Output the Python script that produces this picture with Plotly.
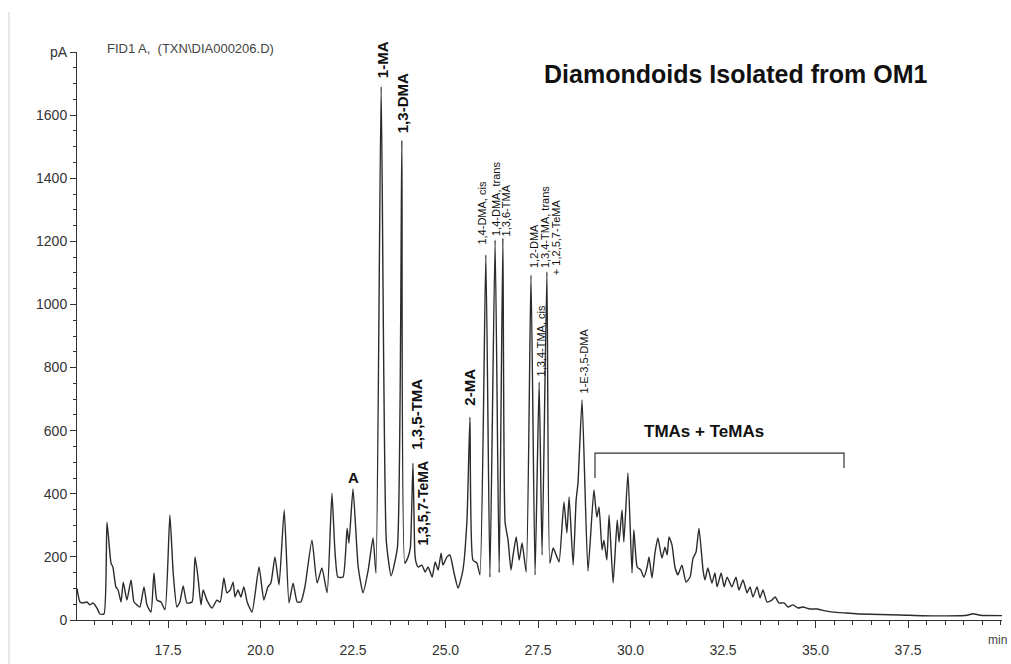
import plotly.graph_objects as go

# ---------------- data ----------------
time_min = [
    15.04, 15.12, 15.20, 15.31, 15.39, 15.47, 15.58, 15.66, 15.77, 15.85,
    15.96, 16.01, 16.09, 16.15, 16.23, 16.29, 16.39, 16.50, 16.58, 16.66,
    16.74, 16.85, 16.93, 17.04, 17.12, 17.20, 17.31, 17.42, 17.55, 17.64,
    17.74, 17.82, 17.91, 18.01, 18.15, 18.23, 18.31, 18.39, 18.45, 18.55,
    18.69, 18.82, 18.91, 19.01, 19.09, 19.18, 19.26, 19.31, 19.39, 19.47,
    19.55, 19.64, 19.77, 19.96, 20.09, 20.20, 20.28, 20.39, 20.50, 20.64,
    20.77, 20.88, 20.99, 21.09, 21.20, 21.39, 21.53, 21.66, 21.80, 21.93,
    22.01, 22.09, 22.23, 22.34, 22.39, 22.50, 22.64, 22.77, 22.91, 23.04,
    23.12, 23.26, 23.40, 23.53, 23.70, 23.82, 23.90, 23.99, 24.05, 24.12,
    24.17, 24.20, 24.26, 24.36, 24.45, 24.53, 24.64, 24.72, 24.80, 24.88,
    24.93, 25.04, 25.12, 25.23, 25.34, 25.47, 25.58, 25.66, 25.74, 25.85,
    25.93, 26.09, 26.20, 26.34, 26.45, 26.55, 26.61, 26.69, 26.77, 26.82,
    26.91, 26.99, 27.07, 27.18, 27.31, 27.42, 27.53, 27.61, 27.74, 27.82,
    27.91, 28.01, 28.07, 28.20, 28.28, 28.34, 28.45, 28.53, 28.58, 28.69,
    28.85, 29.01, 29.09, 29.15, 29.23, 29.28, 29.36, 29.42, 29.53, 29.64,
    29.69, 29.77, 29.82, 29.93, 30.04, 30.09, 30.18, 30.28, 30.36, 30.45,
    30.50, 30.58, 30.66, 30.74, 30.85, 30.93, 30.99, 31.04, 31.12, 31.20,
    31.28, 31.39, 31.50, 31.61, 31.69, 31.77, 31.85, 31.96, 32.01, 32.09,
    32.20, 32.28, 32.34, 32.45, 32.53, 32.61, 32.74, 32.85, 32.93, 33.04,
    33.15, 33.23, 33.31, 33.42, 33.50, 33.58, 33.69, 33.82, 33.91, 34.01,
    34.15, 34.26, 34.39, 34.53, 34.66, 34.85, 35.04, 35.26, 35.48, 35.85,
    36.20, 37.28, 38.18, 39.09, 39.26, 39.45, 40.04,
]
signal_pA = [
    100, 57, 54, 57, 48, 54, 38, 19, 19, 310,
    180, 168, 105, 95, 57, 120, 63, 127, 57, 48,
    41, 105, 48, 25, 149, 63, 57, 32, 333, 149,
    41, 57, 108, 54, 57, 200, 136, 48, 95, 63,
    38, 63, 57, 133, 86, 95, 120, 73, 95, 73,
    105, 57, 25, 168, 63, 105, 117, 200, 111, 349,
    54, 117, 57, 57, 105, 253, 117, 165, 86, 402,
    222, 136, 136, 291, 244, 415, 168, 86, 158, 260,
    149, 1690, 250, 140, 230, 1520, 180, 200, 230, 497,
    215, 184, 168, 174, 152, 168, 136, 184, 158, 212,
    174, 200, 206, 149, 101, 158, 317, 643, 190, 180,
    143, 1157, 136, 1204, 150, 1210, 310, 253, 158, 200,
    263, 190, 244, 152, 1093, 143, 754, 206, 1103, 180,
    228, 200, 184, 374, 276, 390, 174, 380, 434, 697,
    155, 412, 326, 358, 222, 253, 190, 333, 117, 317,
    247, 349, 247, 466, 149, 285, 168, 158, 136, 168,
    200, 133, 212, 260, 196, 231, 206, 263, 238, 168,
    143, 174, 120, 136, 196, 215, 291, 158, 127, 165,
    117, 149, 105, 149, 105, 136, 105, 136, 95, 127,
    86, 105, 73, 105, 70, 95, 57, 63, 73, 54,
    54, 41, 48, 38, 41, 35, 35, 29, 25, 22,
    19, 16, 13, 15, 20, 15, 14,
]

# peak labels: text, retention time
peak_names = ["1-MA", "1,3-DMA", "1,3,5-TMA", "1,3,5,7-TeMA", "2-MA",
              "1,4-DMA, cis", "1,4-DMA, trans", "1,3,6-TMA", "1,2-DMA",
              "1,3,4-TMA, cis", "1,3,4-TMA, trans", "+ 1,2,5,7-TeMA", "1-E-3,5-DMA"]
peak_times = [23.28, 23.84, 24.23, 24.39, 25.64,
              25.96, 26.36, 26.64, 27.39,
              27.58, 27.69, 27.99, 28.74]

y_ticks = [0, 200, 400, 600, 800, 1000, 1200, 1400, 1600]
x_ticks = [17.5, 20.0, 22.5, 25.0, 27.5, 30.0, 32.5, 35.0, 37.5]

# ---------------- style / placement ----------------
label_base = [1712, 1535, 532, 231, 672, 1182, 1210, 1210, 1109, 767, 1109, 1087, 713]
label_bold = [True, True, True, True, True, False, False, False, False, False, False, False, False]
label_size = [15, 15, 15, 14, 15, 11, 11, 11, 11, 11, 11, 11, 11]

FONT = "Liberation Sans, Arial, sans-serif"
INK = "#2b2b2b"

fig = go.Figure()
fig.add_trace(go.Scatter(x=time_min, y=signal_pA, mode="lines",
                         line=dict(color=INK, width=1.4, shape="spline", smoothing=0.5),
                         hoverinfo="skip", showlegend=False))

annotations = []
for name, t, yb, b, s in zip(peak_names, peak_times, label_base, label_bold, label_size):
    annotations.append(dict(
        x=t, y=yb, xref="x", yref="y", text=f"<b>{name}</b>" if b else name,
        textangle=-90, showarrow=False, xanchor="center", yanchor="bottom",
        font=dict(family=FONT, size=s, color="#111")))

annotations += [
    dict(x=22.50, y=453, xref="x", yref="y", text="<b>A</b>", showarrow=False,
         xanchor="center", yanchor="middle",
         font=dict(family=FONT, size=15, color="#111")),
    dict(x=31.99, y=596, xref="x", yref="y", text="<b>TMAs + TeMAs</b>", showarrow=False,
         xanchor="center", yanchor="middle",
         font=dict(family=FONT, size=17, color="#111")),
    dict(x=0.7124, y=0.961, xref="paper", yref="paper",
         xanchor="center", yanchor="middle",
         text="<b>Diamondoids Isolated from OM1</b>", showarrow=False,
         font=dict(family=FONT, size=25, color="#111")),
    dict(x=0.0303, y=1.007, xref="paper", yref="paper", xanchor="left", yanchor="middle",
         text="FID1 A,  (TXN\\DIA000206.D)", showarrow=False,
         font=dict(family=FONT, size=13, color="#444")),
    dict(x=0.9946, y=-0.0352, xref="paper", yref="paper", xanchor="center", yanchor="middle",
         text="min", showarrow=False, font=dict(family=FONT, size=12, color="#444")),
]

shapes = [
    dict(type="path", xref="x", yref="y",
         path="M 29.04 450 L 29.04 529 L 35.77 529 L 35.77 482",
         line=dict(color="#333", width=1.2)),
    dict(type="line", xref="paper", yref="paper", x0=-0.0735, x1=-0.0735,
         y0=-0.0775, y1=1.0704, line=dict(color="#d0d0d0", width=1)),
]

fig.update_layout(
    width=1011, height=664,
    margin=dict(l=77, r=9, t=52, b=44),
    paper_bgcolor="white", plot_bgcolor="white",
    annotations=annotations, shapes=shapes,
    font=dict(family=FONT, size=14, color="#333"),
)
fig.update_xaxes(
    range=[15.04, 40.04], showgrid=False, zeroline=False, automargin=False,
    showline=True, linecolor="#333", linewidth=1,
    tickvals=x_ticks, ticktext=[f"{v:.1f}" for v in x_ticks],
    ticks="outside", ticklen=7, tickcolor="#333", ticklabelstandoff=10,
    minor=dict(dtick=0.5, tick0=15.0, ticks="outside", ticklen=4, tickcolor="#333"),
    tickfont=dict(family=FONT, size=14, color="#333"),
)
fig.update_yaxes(
    range=[0, 1800], showgrid=False, zeroline=False, automargin=False,
    showline=True, linecolor="#333", linewidth=1,
    tickvals=y_ticks + [1800],
    ticktext=[str(v) for v in y_ticks] + ["pA"],
    ticks="outside", ticklen=6, tickcolor="#333",
    minor=dict(dtick=50, tick0=0, ticks="outside", ticklen=3, tickcolor="#333"),
    tickfont=dict(family=FONT, size=14, color="#333"),
)

fig.write_html("out.html")
